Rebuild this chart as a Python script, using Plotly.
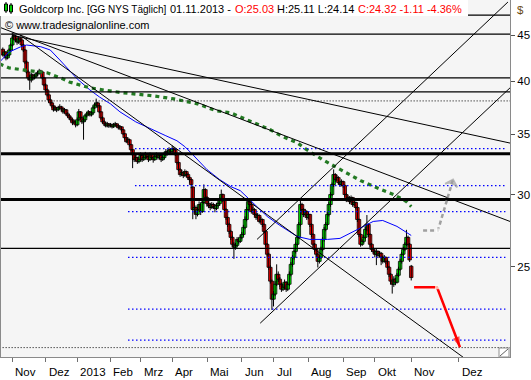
import math
import plotly.graph_objects as go

FONT = "Liberation Sans, Arial, sans-serif"

# ---------------- data ----------------
# trading-day index of each candle (0 = 01.11.2012, 252 = 01.11.2013)
day_index = list(range(-6, 253))

opens = [
    43.40, 42.78, 43.10, 42.45, 42.78, 43.32, 43.87, 44.66, 44.89, 44.43,
    44.20, 44.66, 44.43, 43.87, 43.32, 42.02, 40.97, 40.36, 40.15, 40.67,
    40.36, 40.57, 40.77, 40.88, 41.08, 40.97, 40.36, 39.65, 39.15, 38.66,
    38.17, 37.88, 37.60, 37.22, 37.41, 37.22, 37.41, 37.50, 37.31, 37.03,
    37.22, 36.84, 36.66, 36.47, 36.29, 36.01, 36.10, 35.83, 36.29, 37.03,
    36.47, 36.10, 36.29, 36.66, 36.84, 37.03, 36.75, 36.94, 37.41, 37.69,
    37.88, 37.60, 37.03, 36.47, 36.10, 35.92, 35.74, 35.92, 35.74, 35.83,
    35.65, 35.83, 35.92, 35.74, 35.56, 35.65, 35.38, 35.03, 34.68, 34.33,
    34.50, 34.07, 33.64, 33.22, 32.80, 32.97, 32.64, 32.80, 33.14, 32.80,
    32.97, 33.22, 33.05, 32.80, 33.22, 32.97, 32.80, 33.05, 33.22, 32.97,
    33.14, 32.80, 32.97, 33.22, 33.47, 33.30, 33.64, 33.47, 33.73, 33.64,
    33.22, 32.56, 31.98, 31.58, 31.74, 31.50, 31.82, 31.58, 31.34, 31.18,
    30.60, 28.90, 29.05, 28.54, 28.90, 29.27, 28.75, 29.42, 30.40, 29.79,
    29.34, 29.20, 29.05, 29.27, 29.12, 28.97, 29.20, 29.34, 29.64, 30.02,
    29.64, 28.90, 28.32, 27.83, 27.34, 26.93, 26.46, 26.26, 26.39, 26.79,
    26.66, 26.93, 27.13, 27.62, 28.18, 28.90, 29.49, 29.27, 28.75, 28.90,
    28.54, 28.32, 28.47, 28.04, 28.18, 27.83, 27.34, 26.46, 25.80, 24.96,
    24.10, 23.02, 23.32, 23.91, 24.52, 24.22, 23.91, 23.61, 23.73, 24.03,
    23.61, 23.91, 24.52, 25.15, 25.60, 25.99, 26.46, 26.93, 27.83, 29.27,
    28.90, 28.54, 28.75, 28.32, 28.54, 27.83, 27.13, 26.46, 26.12, 25.80,
    25.34, 25.60, 26.12, 26.79, 27.48, 27.83, 28.54, 29.27, 30.02, 30.79,
    31.58, 31.18, 31.34, 30.95, 30.79, 31.02, 30.71, 30.02, 29.64, 29.79,
    29.49, 29.79, 29.27, 29.42, 29.05, 28.18, 27.13, 26.46, 26.66, 26.93,
    27.48, 27.83, 27.13, 26.46, 26.12, 25.99, 25.80, 25.99, 25.73, 25.86,
    25.60, 25.34, 25.60, 25.34, 24.96, 24.52, 24.10, 23.91, 24.22, 24.03,
    24.46, 24.84, 25.34, 25.80, 26.12, 26.46, 26.93, 26.46, 25.03,
]
highs = [
    43.60, 43.30, 43.20, 42.95, 43.50, 44.05, 45.30, 45.20, 45.00, 44.60,
    44.90, 44.85, 44.50, 44.00, 43.40, 42.20, 41.20, 40.60, 40.90, 40.80,
    40.75, 40.95, 41.10, 41.30, 41.20, 41.00, 40.45, 39.80, 39.30, 38.80,
    38.30, 38.00, 37.70, 37.60, 37.50, 37.60, 37.75, 37.60, 37.40, 37.40,
    37.30, 37.00, 36.80, 36.60, 36.40, 36.30, 36.20, 36.50, 37.30, 37.10,
    36.60, 36.50, 36.80, 37.00, 37.20, 37.10, 37.10, 37.60, 37.90, 38.30,
    38.00, 37.70, 37.10, 36.60, 36.30, 36.10, 36.10, 36.00, 36.00, 35.95,
    36.00, 36.10, 36.00, 35.85, 35.80, 35.70, 35.45, 35.10, 34.75, 34.70,
    34.60, 34.15, 33.70, 33.30, 33.20, 33.05, 33.00, 33.40, 33.20, 33.15,
    33.45, 33.30, 33.15, 33.40, 33.30, 33.05, 33.20, 33.40, 33.30, 33.30,
    33.20, 33.10, 33.40, 33.70, 33.60, 33.85, 33.75, 34.00, 33.85, 33.70,
    33.30, 32.65, 32.10, 31.95, 31.85, 32.00, 31.90, 31.70, 31.45, 31.25,
    30.70, 29.40, 29.20, 29.10, 29.50, 29.35, 29.60, 30.80, 30.50, 29.90,
    29.60, 29.40, 29.45, 29.40, 29.30, 29.40, 29.50, 29.80, 30.40, 30.10,
    29.70, 29.00, 28.40, 27.95, 27.45, 27.05, 26.60, 26.55, 26.95, 26.90,
    27.10, 27.30, 27.80, 28.40, 29.10, 29.70, 29.60, 29.35, 29.10, 29.00,
    28.65, 28.65, 28.55, 28.35, 28.25, 27.90, 27.40, 26.55, 25.90, 25.10,
    24.20, 23.50, 24.10, 25.15, 24.70, 24.35, 24.00, 23.95, 24.20, 24.10,
    24.05, 24.70, 25.30, 25.75, 26.10, 26.60, 27.05, 28.00, 29.75, 29.40,
    29.00, 28.95, 28.85, 28.70, 28.60, 27.90, 27.20, 26.55, 26.20, 25.90,
    25.75, 26.30, 26.95, 27.65, 28.00, 28.70, 29.45, 30.20, 30.95, 32.00,
    31.70, 31.55, 31.45, 31.10, 31.20, 31.10, 30.80, 30.15, 29.95, 29.90,
    29.95, 29.85, 29.60, 29.50, 29.15, 28.25, 27.20, 26.80, 27.10, 27.65,
    28.50, 27.90, 27.20, 26.55, 26.25, 26.10, 26.15, 26.05, 26.00, 25.95,
    25.70, 25.75, 25.65, 25.45, 25.05, 24.60, 24.20, 24.40, 24.30, 24.60,
    25.00, 25.50, 25.95, 26.30, 26.60, 27.45, 27.05, 26.55, 25.11,
]
lows = [
    42.60, 42.60, 42.20, 42.30, 42.60, 43.10, 43.70, 44.40, 44.20, 43.90,
    44.00, 44.20, 43.70, 43.10, 41.80, 40.80, 40.10, 39.15, 39.90, 40.10,
    40.20, 40.40, 40.50, 40.70, 40.80, 40.20, 39.50, 39.00, 38.50, 37.90,
    37.70, 37.40, 37.05, 37.10, 37.00, 37.10, 37.30, 37.10, 36.85, 36.90,
    36.70, 36.50, 36.30, 36.10, 35.80, 35.90, 35.60, 35.70, 36.20, 36.30,
    35.90, 34.50, 36.10, 36.50, 36.70, 36.60, 36.60, 36.80, 37.30, 37.50,
    37.40, 36.90, 36.30, 35.95, 35.75, 35.60, 35.60, 35.55, 35.60, 35.50,
    35.55, 35.70, 35.60, 35.40, 35.45, 35.20, 34.90, 34.50, 34.20, 34.20,
    33.90, 33.50, 32.10, 32.60, 32.65, 32.45, 32.50, 32.70, 32.60, 32.70,
    32.85, 32.90, 32.60, 32.70, 32.80, 32.55, 32.70, 32.95, 32.80, 32.85,
    32.60, 32.70, 32.85, 33.10, 33.15, 33.20, 33.30, 33.35, 33.50, 33.10,
    32.40, 31.85, 31.40, 31.45, 31.30, 31.40, 31.40, 31.15, 30.95, 30.50,
    28.20, 28.60, 28.20, 28.40, 28.80, 28.50, 28.65, 29.30, 29.60, 29.10,
    29.00, 28.85, 28.95, 28.95, 28.70, 28.85, 29.05, 29.20, 29.50, 29.45,
    28.70, 28.15, 27.65, 27.15, 26.75, 26.30, 25.50, 26.10, 26.30, 26.50,
    26.55, 26.80, 27.00, 27.50, 28.05, 28.80, 29.10, 28.60, 28.60, 28.40,
    28.15, 28.20, 27.90, 27.95, 27.65, 27.20, 26.30, 25.65, 24.80, 23.95,
    22.40, 22.60, 23.20, 23.80, 24.05, 23.75, 23.45, 23.50, 23.60, 23.45,
    23.50, 23.80, 24.40, 25.00, 25.45, 25.85, 26.30, 26.80, 27.70, 28.70,
    28.35, 28.40, 28.15, 28.20, 27.65, 26.95, 26.30, 25.95, 25.60, 24.95,
    25.20, 25.50, 26.00, 26.65, 27.35, 27.70, 28.40, 29.10, 29.90, 30.60,
    31.00, 31.05, 30.80, 30.60, 30.65, 30.55, 29.85, 29.45, 29.50, 29.30,
    29.35, 29.10, 29.15, 28.90, 28.00, 26.95, 26.30, 26.35, 26.55, 26.80,
    27.35, 26.95, 26.30, 25.95, 25.85, 25.60, 25.10, 25.55, 25.60, 25.10,
    25.20, 25.25, 25.15, 24.80, 24.35, 23.90, 23.35, 23.75, 23.85, 23.95,
    24.35, 24.75, 25.20, 25.70, 26.00, 26.35, 26.30, 25.30, 24.14,
]
closes = [
    42.78, 43.10, 42.45, 42.78, 43.32, 43.87, 44.66, 44.89, 44.43, 44.20,
    44.66, 44.43, 43.87, 43.32, 42.02, 40.97, 40.36, 40.15, 40.67, 40.36,
    40.57, 40.77, 40.88, 41.08, 40.97, 40.36, 39.65, 39.15, 38.66, 38.17,
    37.88, 37.60, 37.22, 37.41, 37.22, 37.41, 37.50, 37.31, 37.03, 37.22,
    36.84, 36.66, 36.47, 36.29, 36.01, 36.10, 35.83, 36.29, 37.03, 36.47,
    36.10, 36.29, 36.66, 36.84, 37.03, 36.75, 36.94, 37.41, 37.69, 37.88,
    37.60, 37.03, 36.47, 36.10, 35.92, 35.74, 35.92, 35.74, 35.83, 35.65,
    35.83, 35.92, 35.74, 35.56, 35.65, 35.38, 35.03, 34.68, 34.33, 34.50,
    34.07, 33.64, 33.22, 32.80, 32.97, 32.64, 32.80, 33.14, 32.80, 32.97,
    33.22, 33.05, 32.80, 33.22, 32.97, 32.80, 33.05, 33.22, 32.97, 33.14,
    32.80, 32.97, 33.22, 33.47, 33.30, 33.64, 33.47, 33.73, 33.64, 33.22,
    32.56, 31.98, 31.58, 31.74, 31.50, 31.82, 31.58, 31.34, 31.18, 30.79,
    28.90, 29.05, 28.54, 28.90, 29.27, 28.75, 29.42, 30.40, 29.79, 29.34,
    29.20, 29.05, 29.27, 29.12, 28.97, 29.20, 29.34, 29.64, 30.02, 29.64,
    28.90, 28.32, 27.83, 27.34, 26.93, 26.46, 26.26, 26.39, 26.79, 26.66,
    26.93, 27.13, 27.62, 28.18, 28.90, 29.49, 29.27, 28.75, 28.90, 28.54,
    28.32, 28.47, 28.04, 28.18, 27.83, 27.34, 26.46, 25.80, 24.96, 24.10,
    23.02, 23.32, 23.91, 24.52, 24.22, 23.91, 23.61, 23.73, 24.03, 23.61,
    23.91, 24.52, 25.15, 25.60, 25.99, 26.46, 26.93, 27.83, 29.27, 28.90,
    28.54, 28.75, 28.32, 28.54, 27.83, 27.13, 26.46, 26.12, 25.80, 25.34,
    25.60, 26.12, 26.79, 27.48, 27.83, 28.54, 29.27, 30.02, 30.79, 31.58,
    31.18, 31.34, 30.95, 30.79, 31.02, 30.71, 30.02, 29.64, 29.79, 29.49,
    29.79, 29.27, 29.42, 29.05, 28.18, 27.13, 26.46, 26.66, 26.93, 27.48,
    27.83, 27.13, 26.46, 26.12, 25.99, 25.80, 25.99, 25.73, 25.86, 25.60,
    25.34, 25.60, 25.34, 24.96, 24.52, 24.10, 23.91, 24.22, 24.03, 24.46,
    24.84, 25.34, 25.80, 26.12, 26.46, 26.93, 26.46, 25.43, 24.32,
]
assert len(opens) == len(highs) == len(lows) == len(closes) == len(day_index)

# x-axis months (trading-day index of first day; future part in calendar days)
month_idx = [0, 21, 41, 62, 81, 101, 123, 145, 165, 187, 209, 229, 252, 282]
month_lbl = ["Nov", "Dez", "2013", "Feb", "Mrz", "Apr", "Mai", "Jun", "Jul",
             "Aug", "Sep", "Okt", "Nov", "Dez"]
price_ticks = [25, 30, 35, 40, 45]

# moving averages
ma_blue_idx = [-8, -2, 5, 9, 18, 24, 30, 36, 41, 49, 55, 62, 68, 78, 87, 97, 104,
               109, 114, 119, 123, 131, 138, 144, 152, 161, 169, 180, 188, 199,
               207, 218, 228, 234, 243, 249, 252]
ma_blue = [42.02, 43.10, 43.65, 43.87, 43.68, 43.32, 42.24, 41.18, 40.26, 39.15,
           38.46, 37.79, 37.03, 36.10, 35.47, 34.85, 34.41, 33.90, 33.22, 32.55,
           31.98, 31.18, 30.63, 30.32, 29.42, 28.40, 27.76, 26.99, 26.79, 26.79,
           26.86, 27.48, 28.04, 28.11, 27.69, 27.27, 27.06]
ma_green_idx = [-8, -2, 5, 16, 22, 32, 36, 49, 57, 68, 89, 102, 117, 129, 138,
                150, 163, 171, 180, 186, 196, 205, 211, 220, 230, 241, 249, 252]
ma_green = [41.81, 41.39, 41.23, 40.97, 40.88, 40.26, 39.95, 39.35, 39.15, 38.90,
            38.56, 38.27, 37.79, 37.12, 36.94, 36.19, 35.38, 34.76, 34.24, 33.64,
            32.80, 32.15, 31.74, 31.10, 30.56, 30.02, 29.49, 29.12]

# horizontal levels
level_thin = [47.34, 45.11, 40.36, 38.95, 26.19]
level_thick = [33.30, 29.64]
level_dot_black = [38.07, 20.36]
level_dot_blue = [33.73, 30.71, 28.75, 25.60, 22.45, 20.75]
level_dot_blue_from = [77.5, 77.5, 73.1, 73.1, 73.1, 73.1]

# trend lines (start index, start price, end index, end price)
trend_x0 = [-7.8, -0.2, 4.9, 154.6, 156.6]
trend_p0 = [45.88, 44.97, 45.00, 26.79, 21.66]
trend_x1 = [314.4, 314.4, 289.1, 313.1, 314.4]
trend_p1 = [28.04, 34.21, 19.62, 48.93, 39.35]

# projection arrows
proj_up_x = [259.5, 268.9, 278.4]
proj_up_y = [27.41, 27.41, 31.18]
proj_dn_x = [253.8, 268.3, 282.8]
proj_dn_y = [23.73, 23.73, 20.38]

# ---------------- layout geometry ----------------
W, H = 531, 380
ML, MR, MT, MB = 1, 21, 0, 23
PW, PH = W - ML - MR, H - MT - MB
X_RANGE = [-7.14, 314.4]
Y_RANGE = [math.log10(19.88), math.log10(49.18)]


def px(xp):
    return (xp - ML) / PW


def py(yp):
    return 1 - (yp - MT) / PH


fig = go.Figure()

# candles: wicks
wx, wy = [], []
for i, h, l in zip(day_index, highs, lows):
    wx += [i, i, None]
    wy += [l, h, None]
fig.add_trace(go.Scatter(x=wx, y=wy, mode="lines",
                         line=dict(color="black", width=1), hoverinfo="skip"))

# candles: bodies
base = [min(o, c) for o, c in zip(opens, closes)]
size = [max(abs(c - o), 0.05) for o, c in zip(opens, closes)]
cols = ["#00ff00" if c >= o else "#ff0000" for o, c in zip(opens, closes)]
fig.add_trace(go.Bar(x=day_index, y=size, base=base, width=2.2,
                     marker=dict(color=cols, line=dict(color="black", width=0.8)),
                     hoverinfo="skip"))

# moving averages
fig.add_trace(go.Scatter(x=ma_blue_idx, y=ma_blue, mode="lines",
                         line=dict(color="#0000ff", width=1)))
fig.add_trace(go.Scatter(x=ma_green_idx, y=ma_green, mode="lines",
                         line=dict(color="#237a23", width=3.2, dash="4px,4px")))

# horizontal levels
for lv in level_thin:
    fig.add_trace(go.Scatter(x=[-8, 315], y=[lv, lv], mode="lines",
                             line=dict(color="black", width=1.3)))
for lv in level_thick:
    fig.add_trace(go.Scatter(x=[-8, 315], y=[lv, lv], mode="lines",
                             line=dict(color="black", width=3)))
for lv in level_dot_black:
    fig.add_trace(go.Scatter(x=[-8, 315], y=[lv, lv], mode="lines",
                             line=dict(color="black", width=1, dash="1px,2px")))
for lv, x0 in zip(level_dot_blue, level_dot_blue_from):
    fig.add_trace(go.Scatter(x=[x0, 311.5], y=[lv, lv], mode="lines",
                             line=dict(color="#0000ff", width=1.3, dash="1.5px,2.5px")))

# trend lines
for a, b, c, d in zip(trend_x0, trend_p0, trend_x1, trend_p1):
    fig.add_trace(go.Scatter(x=[a, c], y=[b, d], mode="lines",
                             line=dict(color="black", width=1)))

# projection arrows
fig.add_trace(go.Scatter(x=proj_up_x, y=proj_up_y, mode="lines",
                         line=dict(color="#a0a0a0", width=2.5, dash="4px,3px")))
fig.add_trace(go.Scatter(x=proj_up_x, y=proj_up_y, mode="markers",
                         marker=dict(symbol=["square", "square", "arrow-wide-open"],
                                     size=[0, 4, 9], angleref="previous",
                                     color=["white", "white", "#a0a0a0"],
                                     line=dict(color="#a0a0a0", width=[0, 0, 2]))))
fig.add_trace(go.Scatter(x=proj_dn_x, y=proj_dn_y, mode="lines",
                         line=dict(color="#ff0000", width=2.5)))
fig.add_trace(go.Scatter(x=proj_dn_x, y=proj_dn_y, mode="markers",
                         marker=dict(symbol=["square", "square", "arrow"],
                                     size=[0, 4, 11], angleref="previous",
                                     color=["white", "#ffffee", "#ff0000"],
                                     line=dict(width=0))))

shapes = [
    # white header strip
    dict(type="rect", xref="paper", yref="paper", x0=px(0), x1=px(468),
         y0=py(16), y1=py(0), fillcolor="white", line=dict(width=0), layer="above"),
    # small candle icon
    dict(type="line", xref="paper", yref="paper", x0=px(6), x1=px(6),
         y0=py(13), y1=py(2), line=dict(color="black", width=1), layer="above"),
    dict(type="rect", xref="paper", yref="paper", x0=px(4.5), x1=px(7.5),
         y0=py(11), y1=py(4), fillcolor="#00cc00", line=dict(color="black", width=1), layer="above"),
    dict(type="line", xref="paper", yref="paper", x0=px(11), x1=px(11),
         y0=py(14), y1=py(3), line=dict(color="black", width=1), layer="above"),
    dict(type="rect", xref="paper", yref="paper", x0=px(9.5), x1=px(12.5),
         y0=py(12), y1=py(5), fillcolor="#00cc00", line=dict(color="black", width=1), layer="above"),
    # resize grip
    dict(type="rect", xref="paper", yref="paper", x0=px(499), x1=px(509),
         y0=py(357), y1=py(348), fillcolor="white", line=dict(color="#909090", width=1), layer="above"),
    dict(type="line", xref="paper", yref="paper", x0=px(500), x1=px(508),
         y0=py(356), y1=py(349), line=dict(color="#606060", width=1), layer="above"),
]

ann = []
hdr = [(17, "Goldcorp Inc.", "black", 11), (85, "[GG NYS Täglich]", "black", 10),
       (168, "01.11.2013 -", "black", 11), (233, "O:25.03", "#ff0000", 11),
       (275, "H:25.11 L:24.14", "black", 11), (356, "C:24.32 -1.11 -4.36%", "#ff0000", 11)]
for xpix, t, c, fs in hdr:
    ann.append(dict(xref="paper", yref="paper", x=px(xpix), y=py(9), text=t,
                    showarrow=False, xanchor="left", yanchor="middle",
                    font=dict(family=FONT, size=fs, color=c)))
ann.append(dict(xref="paper", yref="paper", x=px(3), y=py(25.5),
                text="© www.tradesignalonline.com", showarrow=False,
                xanchor="left", yanchor="middle",
                font=dict(family=FONT, size=11, color="black")))
ann.append(dict(xref="paper", yref="paper", x=px(515), y=py(10), text="$",
                showarrow=False, xanchor="left", yanchor="middle",
                font=dict(family=FONT, size=11.5, color="#6b4a12")))
for m, lbl in zip(month_idx, month_lbl):
    ann.append(dict(xref="x", yref="paper", x=m, y=py(372), text=lbl,
                    showarrow=False, xanchor="left", yanchor="middle", xshift=1,
                    font=dict(family=FONT, size=11.5, color="black")))

fig.update_layout(
    width=W, height=H,
    margin=dict(l=ML, r=MR, t=MT, b=MB, pad=0),
    paper_bgcolor="white", plot_bgcolor="#f5f5f5",
    showlegend=False, hovermode=False, barmode="overlay",
    shapes=shapes, annotations=ann,
    xaxis=dict(range=X_RANGE, showgrid=False, zeroline=False,
               tickvals=month_idx, ticks="outside", ticklen=4,
               tickcolor="#707070", showticklabels=False,
               showline=True, linecolor="#8a8a8a", linewidth=1, mirror=False),
    yaxis=dict(type="log", range=Y_RANGE, side="right", showgrid=False,
               zeroline=False, tickvals=price_ticks,
               ticktext=[str(v) for v in price_ticks],
               ticks="outside", ticklen=4, tickcolor="#505050",
               tickfont=dict(family=FONT, size=11.5, color="black"),
               showline=True, linecolor="#8a8a8a", linewidth=1, mirror=True),
)

fig.write_html("out.html")
